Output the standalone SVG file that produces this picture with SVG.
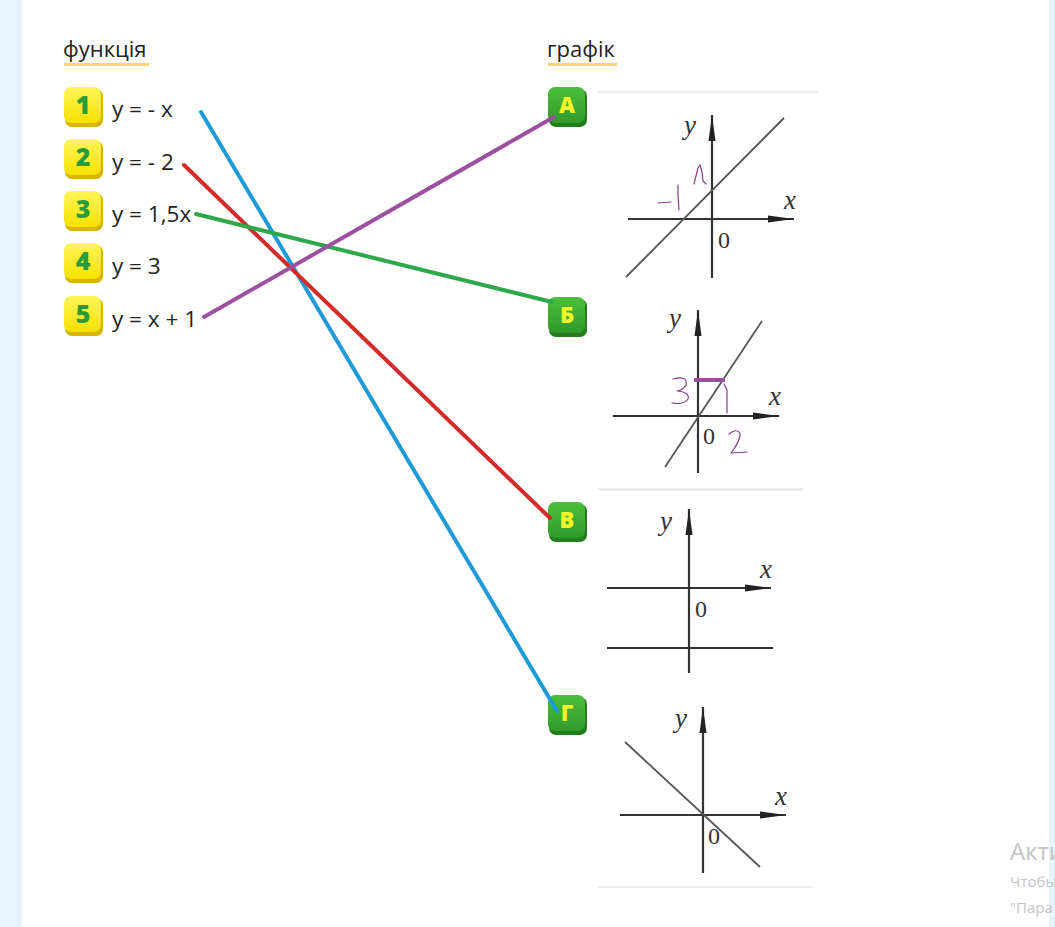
<svg xmlns="http://www.w3.org/2000/svg" width="1055" height="927" viewBox="0 0 1055 927">
<defs>
<linearGradient id="strip" x1="0" x2="1" y1="0" y2="0"><stop offset="0" stop-color="#e9f6fd"/><stop offset="0.8" stop-color="#e4f3fc"/><stop offset="1" stop-color="#ffffff"/></linearGradient>
<linearGradient id="yel" x1="0" x2="0" y1="0" y2="1"><stop offset="0" stop-color="#fff65a"/><stop offset="1" stop-color="#f5e000"/></linearGradient>
<linearGradient id="grn" x1="0" x2="0" y1="0" y2="1"><stop offset="0" stop-color="#4cbf3a"/><stop offset="1" stop-color="#2f9a2a"/></linearGradient>
<marker id="ax" viewBox="0 0 26 8" refX="26" refY="4" markerWidth="26" markerHeight="8" markerUnits="userSpaceOnUse" orient="auto"><path d="M0,0.5 L26,4 L0,7.5 Z" fill="#222"/></marker>
<style>
.hdr{font-family:"Open Sans","Liberation Sans",sans-serif;font-size:22px;fill:#222}
.ul{stroke:#f6d96a;stroke-width:3}
.eq{font-family:"Open Sans","Liberation Sans",sans-serif;font-size:22.5px;fill:#222}
.num{font-family:"Open Sans","Liberation Sans",sans-serif;font-size:25px;font-weight:800;fill:#2a9a3a;text-anchor:middle}
.let{font-family:"Open Sans","Liberation Sans",sans-serif;font-size:22px;font-weight:800;fill:#f4f52a;text-anchor:middle}
.ysh{fill:#d8b400}
.gsh{fill:#237d1f}
.axis{stroke:#333;stroke-width:2.2;fill:none}
.gl{stroke:#555;stroke-width:1.8;fill:none}
.sep{stroke:#e8e8e8;stroke-width:1.5}
.lab{font-family:"Liberation Serif",serif;font-style:italic;font-size:27px;fill:#333}
.zero{font-family:"Liberation Serif",serif;font-size:24px;fill:#333}
.hw{stroke:#8a3a8f;stroke-width:1.2;fill:none;stroke-linecap:round;stroke-linejoin:round}
.con{stroke-width:4;stroke-linecap:round;fill:none}
.wm{font-family:"Open Sans","Liberation Sans",sans-serif;fill:#c4c4c4}
</style>
</defs>
<rect width="1055" height="927" fill="#ffffff"/>
<rect x="0" y="0" width="25" height="927" fill="url(#strip)"/>
<rect x="1049" y="0" width="6" height="927" fill="#e4f3fc"/>

<g id="headers">
<text class="hdr" x="63" y="57">функція</text>
<line class="ul" x1="64" y1="64.5" x2="149" y2="64.5"/>
<text class="hdr" x="547" y="57">графік</text>
<line class="ul" x1="548" y1="64.5" x2="617" y2="64.5"/>
</g>

<g id="f1"><rect class="ysh" x="65" y="89" width="38" height="38" rx="7"/><rect x="64" y="87" width="37" height="36" rx="7" fill="url(#yel)"/><text class="num" x="83" y="114">1</text><text class="eq" x="112" y="117">y = - x</text></g>
<g id="f2"><rect class="ysh" x="65" y="141" width="38" height="38" rx="7"/><rect x="64" y="139" width="37" height="36" rx="7" fill="url(#yel)"/><text class="num" x="83" y="166">2</text><text class="eq" x="112" y="170">y = - 2</text></g>
<g id="f3"><rect class="ysh" x="65" y="193" width="38" height="38" rx="7"/><rect x="64" y="191" width="37" height="36" rx="7" fill="url(#yel)"/><text class="num" x="83" y="218">3</text><text class="eq" x="112" y="222">y = 1,5x</text></g>
<g id="f4"><rect class="ysh" x="65" y="245" width="38" height="38" rx="7"/><rect x="64" y="243" width="37" height="36" rx="7" fill="url(#yel)"/><text class="num" x="83" y="270">4</text><text class="eq" x="112" y="274">y = 3</text></g>
<g id="f5"><rect class="ysh" x="65" y="298" width="38" height="38" rx="7"/><rect x="64" y="296" width="37" height="36" rx="7" fill="url(#yel)"/><text class="num" x="83" y="323">5</text><text class="eq" x="112" y="327">y = x + 1</text></g>

<g id="gA">
<rect class="gsh" x="549" y="89" width="38" height="38" rx="7"/><rect x="548" y="87" width="37" height="36" rx="7" fill="url(#grn)"/><text class="let" x="567" y="113">А</text>
<line class="sep" x1="598" y1="92" x2="818" y2="92"/>
<line class="axis" x1="712" y1="278" x2="712" y2="115" marker-end="url(#ax)"/>
<line class="axis" x1="628" y1="219" x2="794" y2="219" marker-end="url(#ax)"/>
<line class="gl" x1="626" y1="277" x2="784" y2="118"/>
<text class="lab" x="684" y="134">y</text>
<text class="lab" x="784" y="209">x</text>
<text class="zero" x="718" y="248">0</text>
<path class="hw" d="M694,184 L698,168 L700,165 L702,172 L703,181 L706,184"/>
<path class="hw" d="M658,203 L671,202 M678,185 L678,196 L679,210"/>
</g>

<g id="gB">
<rect class="gsh" x="549" y="299" width="38" height="38" rx="7"/><rect x="548" y="297" width="37" height="36" rx="7" fill="url(#grn)"/><text class="let" x="567" y="323">Б</text>
<line class="sep" x1="598" y1="489" x2="803" y2="489"/>
<line class="axis" x1="698" y1="473" x2="698" y2="310" marker-end="url(#ax)"/>
<line class="axis" x1="613" y1="416" x2="779" y2="416" marker-end="url(#ax)"/>
<line class="gl" x1="665" y1="467" x2="762" y2="321"/>
<text class="lab" x="669" y="327">y</text>
<text class="lab" x="769" y="405">x</text>
<text class="zero" x="703" y="444">0</text>
<line x1="694" y1="380" x2="725" y2="380" stroke="#9b4f9e" stroke-width="4"/>
<path class="hw" d="M673,379 Q688,375 686,385 Q683,390 677,391 Q690,392 688,399 Q684,405 672,403"/>
<path class="hw" d="M724,384 L727,390 L727,413"/>
<path class="hw" d="M729,434 Q736,428 740,433 Q741,440 731,453 L747,452"/>
</g>

<g id="gV">
<rect class="gsh" x="549" y="504" width="38" height="38" rx="7"/><rect x="548" y="502" width="37" height="36" rx="7" fill="url(#grn)"/><text class="let" x="567" y="528">В</text>
<line class="sep" x1="598" y1="490" x2="803" y2="490"/>
<line class="axis" x1="689" y1="673" x2="689" y2="509" marker-end="url(#ax)"/>
<line class="axis" x1="607" y1="588" x2="771" y2="588" marker-end="url(#ax)"/>
<line class="axis" x1="607" y1="648" x2="773" y2="648"/>
<text class="lab" x="660" y="530">y</text>
<text class="lab" x="760" y="578">x</text>
<text class="zero" x="695" y="617">0</text>
</g>

<g id="gG">
<rect class="gsh" x="549" y="697" width="38" height="38" rx="7"/><rect x="548" y="695" width="37" height="36" rx="7" fill="url(#grn)"/><text class="let" x="567" y="721">Г</text>
<line class="sep" x1="598" y1="887" x2="812" y2="887"/>
<line class="axis" x1="703" y1="873" x2="703" y2="707" marker-end="url(#ax)"/>
<line class="axis" x1="620" y1="815" x2="786" y2="815" marker-end="url(#ax)"/>
<line class="gl" x1="625" y1="742" x2="760" y2="867"/>
<text class="lab" x="675" y="727">y</text>
<text class="lab" x="775" y="805">x</text>
<text class="zero" x="708" y="844">0</text>
</g>

<g id="connectors">
<line class="con" stroke="#1e9bd7" x1="201" y1="112" x2="557" y2="711"/>
<line class="con" stroke="#d42a2a" x1="184" y1="165" x2="550" y2="518"/>
<line class="con" stroke="#2ea84a" x1="196" y1="214" x2="552" y2="302"/>
<line class="con" stroke="#9b4f9e" x1="204" y1="317" x2="554" y2="117"/>
</g>

<g id="watermark">
<text class="wm" x="1010" y="860" font-size="24">Акти</text>
<text class="wm" x="1010" y="887" font-size="15">Чтобы</text>
<text class="wm" x="1010" y="913" font-size="15">"Пара</text>
</g>
</svg>
